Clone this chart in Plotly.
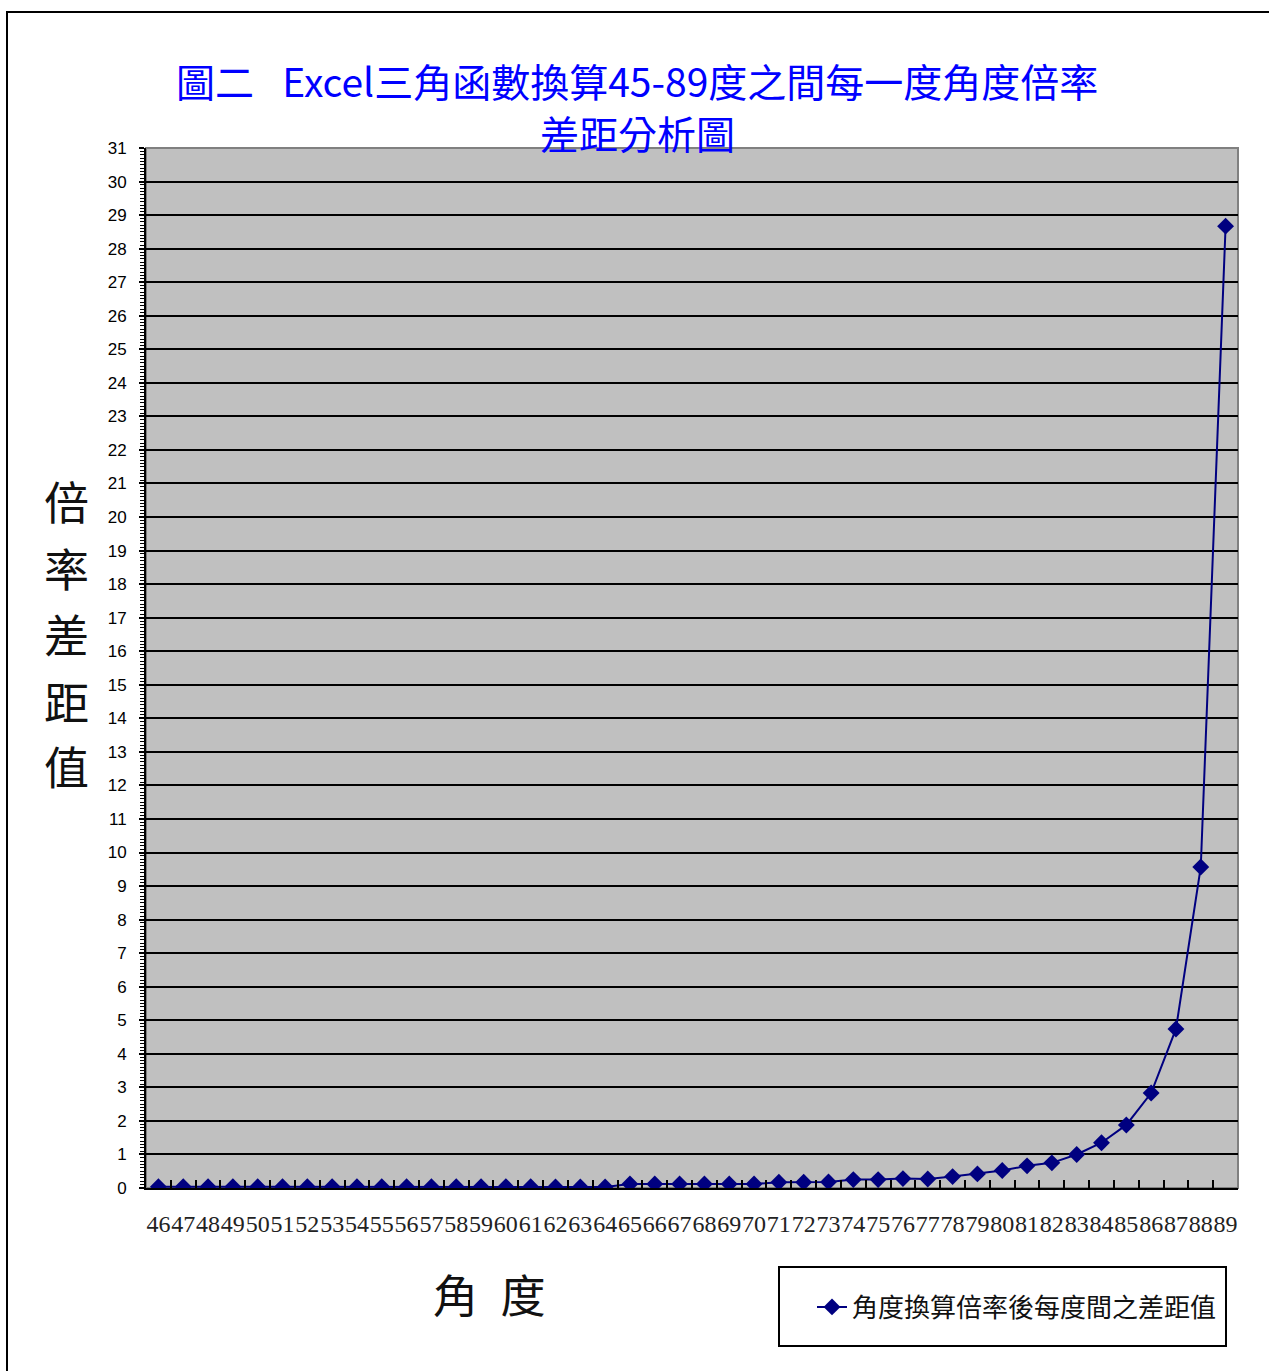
import plotly.graph_objects as go

# Angle categories (degrees) and the difference between consecutive tangent ratios
angles = [str(a) for a in range(46, 90)]
diff_values = [
    0.04, 0.04, 0.04, 0.04, 0.04, 0.04, 0.04, 0.04, 0.04, 0.04,   # 46-55
    0.04, 0.04, 0.04, 0.04, 0.04, 0.04, 0.03, 0.03, 0.03,         # 56-64
    0.12, 0.12, 0.12, 0.12, 0.12, 0.12,                           # 65-70
    0.17, 0.17, 0.18, 0.25, 0.25, 0.28, 0.27,                     # 71-77
    0.34, 0.42, 0.52, 0.66, 0.75, 1.00, 1.35, 1.88,               # 78-85
    2.83, 4.74, 9.57, 28.67,                                      # 86-89
]
y_ticks = list(range(0, 32))

title_line1 = "圖二\u2002\u00a0Excel三角函數換算45-89度之間每一度角度倍率"
title_line2 = "差距分析圖"
y_title_chars = ["倍", "率", "差", "距", "值"]
x_title = "角\u2002度"
series_name = "角度換算倍率後每度間之差距值"

FIG_W, FIG_H = 1269, 1371
L, R, T, B = 146, 1238, 148, 1188
W, H = R - L, B - T


def px_x(p):
    return (p - L) / W


def px_y(p):
    return (B - p) / H


NAVY = "#000080"
CJK = "Noto Sans CJK TC"

fig = go.Figure()
fig.add_trace(go.Scatter(
    x=angles, y=diff_values, name=series_name,
    mode="lines+markers",
    line=dict(color=NAVY, width=2),
    marker=dict(symbol="diamond", size=13, color=NAVY),
))

fig.update_layout(
    width=FIG_W, height=FIG_H,
    margin=dict(l=L, r=FIG_W - R, t=T, b=FIG_H - B, pad=0),
    paper_bgcolor="white",
    plot_bgcolor="#C0C0C0",
    showlegend=True,
    legend=dict(
        x=px_x(812), y=px_y(1307), xanchor="left", yanchor="middle",
        bgcolor="rgba(0,0,0,0)", borderwidth=0,
        font=dict(family=CJK, size=26, color="#111111"),
    ),
    xaxis=dict(
        type="category", range=[-0.5, len(angles) - 0.5],
        tickmode="linear", tick0=0, dtick=1, tickangle=0,
        showline=True, linecolor="black", linewidth=2,
        ticks="inside", ticklen=8, tickcolor="black", tickwidth=2,
        tickson="boundaries", showgrid=False,
        tickfont=dict(family="Liberation Serif", size=24, color="#222222"),
        ticklabelstandoff=13,
    ),
    yaxis=dict(
        range=[0, 31], tickvals=y_ticks, ticktext=[str(v) for v in y_ticks],
        showline=True, linecolor="black", linewidth=2,
        ticks="outside", ticklen=5, tickcolor="black", tickwidth=2,
        showgrid=True, gridcolor="black", gridwidth=2,
        zeroline=False,
        tickfont=dict(family="Liberation Sans", size=17, color="black"),
        ticklabelstandoff=9,
        minor=dict(dtick=0.1, ticks="outside", ticklen=4, tickcolor="black",
                   tickwidth=1, showgrid=False),
    ),
)

shapes = [
    # outer chart frame
    dict(type="rect", xref="paper", yref="paper",
         x0=px_x(7), x1=px_x(1300), y0=px_y(12), y1=px_y(1400),
         line=dict(color="black", width=2), layer="below"),
    # plot area border
    dict(type="rect", xref="paper", yref="paper", x0=0, x1=1, y0=0, y1=1,
         line=dict(color="#808080", width=2), layer="below"),
    # legend box
    dict(type="rect", xref="paper", yref="paper",
         x0=px_x(779), x1=px_x(1226), y0=px_y(1267), y1=px_y(1346),
         line=dict(color="black", width=2), fillcolor="white", layer="above"),
]
fig.update_layout(shapes=shapes)

annotations = [
    dict(text=title_line1, x=px_x(637), y=px_y(80)),
    dict(text=title_line2, x=px_x(637), y=px_y(132)),
]
for a in annotations:
    a.update(xref="paper", yref="paper", xanchor="center", yanchor="middle",
             showarrow=False, font=dict(family=CJK, size=39, color="#0000FF"))

y_char_centers = [500, 567, 633, 700, 765]
for ch, cy in zip(y_title_chars, y_char_centers):
    annotations.append(dict(
        text=ch, x=px_x(67), y=px_y(cy), xref="paper", yref="paper",
        xanchor="center", yanchor="middle", showarrow=False,
        font=dict(family=CJK, size=45, color="#111111"),
    ))
annotations.append(dict(
    text=x_title, x=px_x(489), y=px_y(1293), xref="paper", yref="paper",
    xanchor="center", yanchor="middle", showarrow=False,
    font=dict(family=CJK, size=45, color="#111111"),
))
fig.update_layout(annotations=annotations)

fig.write_html("out.html")
